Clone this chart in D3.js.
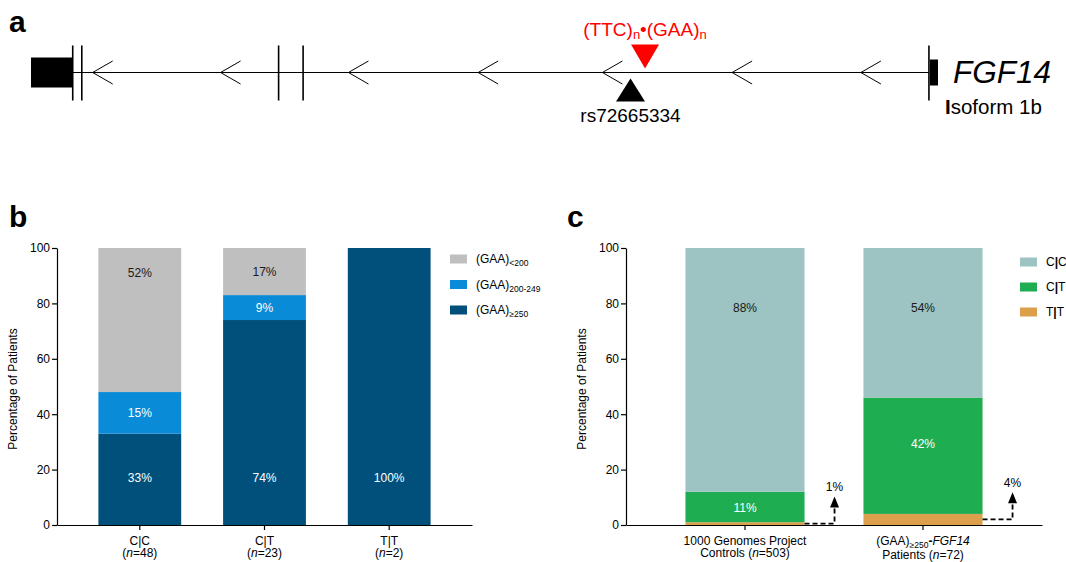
<!DOCTYPE html>
<html>
<head>
<meta charset="utf-8">
<script src="https://cdn.jsdelivr.net/npm/d3@7/dist/d3.min.js"></script>
<style>
  html, body { margin: 0; padding: 0; background: #fff; }
  svg { display: block; font-family: "Liberation Sans", Arial, sans-serif; }
</style>
</head>
<body>
<svg id="chart" width="1066" height="562"></svg>
<script>
// ---------------- DATA ----------------
// Panel a: gene model (positions as % of the drawn gene length)
const bigExon = [0, 4.6];
const smallExon = [99.1, 100];
const exonBars = [4.6, 5.6, 27.3, 30.0, 99.0];
const intron = [4.6, 99.0];
const chevrons = [6.8, 20.9, 35.0, 49.3, 63.0, 77.3, 91.5];
const repeatPos = 67.7;
const snpPos = 66.1;

// Panel b
const genotypesB = ["C|C", "C|T", "T|T"];
const nB = [48, 23, 2];
const gaaGe250 = [33, 74, 100];
const gaa200to249 = [15, 9, 0];
const gaaLt200 = [52, 17, 0];
// label anchors (in % units) for each segment
const lblGe250 = [17, 17, 17];
const lbl200to249 = [40.5, 78.5, null];
const lblLt200 = [91, 91.5, null];

// Panel c
const groupsC = ["controls", "patients"];
const nC = [503, 72];
const genoCC = [88, 54];
const genoCT = [11, 42];
const genoTT = [1, 4];
const lblCC = [78.3, 78.3];
const lblCT = [6.3, 29.5];

const yTicks = [0, 20, 40, 60, 80, 100];

// ---------------- DRAW ----------------
const svg = d3.select("#chart");
const FONT = '"Liberation Sans", Arial, sans-serif';

// Panel letters
[["a", 9, 32], ["b", 9, 227], ["c", 567, 227]].forEach(([t, x, y]) => {
  svg.append("text").attr("x", x).attr("y", y).attr("font-size", 30)
    .attr("font-weight", "bold").attr("fill", "#000").text(t);
});

// ---- Panel a ----
const gx = d3.scaleLinear().domain([0, 100]).range([31, 938]);
const gy = 72.5;
const ga = svg.append("g");
ga.append("line").attr("x1", gx(intron[0])).attr("x2", gx(intron[1]))
  .attr("y1", gy).attr("y2", gy).attr("stroke", "#000").attr("stroke-width", 1.2);
ga.append("rect").attr("x", gx(bigExon[0])).attr("width", gx(bigExon[1]) - gx(bigExon[0]))
  .attr("y", gy - 15).attr("height", 30).attr("fill", "#000");
ga.append("rect").attr("x", gx(smallExon[0])).attr("width", gx(smallExon[1]) - gx(smallExon[0]))
  .attr("y", gy - 13).attr("height", 26).attr("fill", "#000");
ga.selectAll("line.eb").data(exonBars).join("line").attr("class", "eb")
  .attr("x1", d => gx(d)).attr("x2", d => gx(d)).attr("y1", gy - 27).attr("y2", gy + 28)
  .attr("stroke", "#000").attr("stroke-width", 1.6);
ga.selectAll("path.chev").data(chevrons).join("path").attr("class", "chev")
  .attr("d", d => `M${gx(d) + 20},${gy - 11.5}L${gx(d)},${gy}L${gx(d) + 20},${gy + 11.5}`)
  .attr("fill", "none").attr("stroke", "#000").attr("stroke-width", 1);
// repeat (red, pointing down)
const rx = gx(repeatPos);
ga.append("path").attr("d", `M${rx - 14},${gy - 28}L${rx + 14},${gy - 28}L${rx},${gy - 4}Z`).attr("fill", "#ff0000");
const rt = ga.append("text").attr("x", rx).attr("y", 36).attr("text-anchor", "middle")
  .attr("font-size", 19).attr("fill", "#ff0000");
rt.append("tspan").text("(TTC)");
rt.append("tspan").attr("font-size", 13).attr("dy", 3).text("n");
rt.append("tspan").attr("dy", -3).text("•(GAA)");
rt.append("tspan").attr("font-size", 13).attr("dy", 3).text("n");
// SNP (black, pointing up)
const sx = gx(snpPos);
ga.append("path").attr("d", `M${sx - 14.5},${gy + 29}L${sx + 14.5},${gy + 29}L${sx},${gy + 6}Z`).attr("fill", "#000");
ga.append("text").attr("x", sx).attr("y", 122).attr("text-anchor", "middle")
  .attr("font-size", 19).attr("fill", "#000").text("rs72665334");
// gene name
ga.append("text").attr("x", 953).attr("y", 83).attr("font-size", 31.5)
  .attr("font-style", "italic").attr("fill", "#000").text("FGF14");
const iso = ga.append("text").attr("x", 945).attr("y", 114).attr("font-size", 20.5).attr("fill", "#000");
iso.append("tspan").attr("font-weight", "bold").text("I");
iso.append("tspan").text("soform 1b");

// ---- Common y scale ----
const y = d3.scaleLinear().domain([0, 100]).range([525, 248]);

function yAxis(g, x0) {
  const ax = g.append("g").attr("transform", `translate(${x0},0)`)
    .call(d3.axisLeft(y).tickValues(yTicks).tickSize(5).tickPadding(2).tickSizeOuter(0));
  ax.selectAll("text").attr("font-size", 12).attr("font-family", FONT).attr("fill", "#000");
  ax.selectAll("line,path").attr("stroke", "#000").attr("stroke-width", 1.2);
}
function yLabel(g, x) {
  g.append("text").attr("transform", `translate(${x},389) rotate(-90)`)
    .attr("text-anchor", "middle").attr("font-size", 12).attr("fill", "#000")
    .text("Percentage of Patients");
}
function segLabel(g, xc, v, txt, color) {
  g.append("text").attr("x", xc).attr("y", y(v)).attr("dy", "0.36em")
    .attr("text-anchor", "middle").attr("font-size", 12).attr("fill", color).text(txt);
}

// ---- Panel b ----
const gb = svg.append("g");
const xb = d3.scaleBand().domain(genotypesB).range([57, 472]).paddingInner(0.336).paddingOuter(0.332);
const colB = { ge: "#014f7b", mid: "#0a8bd7", lt: "#bfbfbf" };
genotypesB.forEach((gt, i) => {
  const x0 = xb(gt), w = xb.bandwidth();
  const segs = [
    { v0: 0, v1: gaaGe250[i], c: colB.ge, lab: lblGe250[i], tc: "#fff" },
    { v0: gaaGe250[i], v1: gaaGe250[i] + gaa200to249[i], c: colB.mid, lab: lbl200to249[i], tc: "#fff" },
    { v0: gaaGe250[i] + gaa200to249[i], v1: gaaGe250[i] + gaa200to249[i] + gaaLt200[i], c: colB.lt, lab: lblLt200[i], tc: "#1a1a1a" }
  ];
  segs.forEach(s => {
    if (s.v1 - s.v0 <= 0) return;
    gb.append("rect").attr("x", x0).attr("width", w).attr("y", y(s.v1))
      .attr("height", y(s.v0) - y(s.v1)).attr("fill", s.c);
    segLabel(gb, x0 + w / 2, s.lab, (s.v1 - s.v0) + "%", s.tc);
  });
});
yAxis(gb, 57);
yLabel(gb, 17);
const xbAx = gb.append("g").attr("transform", "translate(0,525)")
  .call(d3.axisBottom(xb).tickSize(5).tickSizeOuter(0).tickFormat(""));
xbAx.selectAll("line,path").attr("stroke", "#000").attr("stroke-width", 1.2);
genotypesB.forEach((gt, i) => {
  const xc = xb(gt) + xb.bandwidth() / 2;
  gb.append("text").attr("x", xc).attr("y", 545).attr("text-anchor", "middle")
    .attr("font-size", 12).attr("fill", "#000").text(gt);
  const t = gb.append("text").attr("x", xc).attr("y", 557).attr("text-anchor", "middle")
    .attr("font-size", 12).attr("fill", "#000");
  t.append("tspan").text("(");
  t.append("tspan").attr("font-style", "italic").text("n");
  t.append("tspan").text("=" + nB[i] + ")");
});
// legend b
const legB = [
  { c: colB.lt, sub: "<200" },
  { c: colB.mid, sub: "200-249" },
  { c: colB.ge, sub: "≥250" }
];
legB.forEach((d, i) => {
  const yy = 259 + i * 25.5;
  gb.append("rect").attr("x", 450).attr("y", yy - 4.5).attr("width", 17).attr("height", 9).attr("fill", d.c);
  const t = gb.append("text").attr("x", 476).attr("y", yy + 4).attr("font-size", 12).attr("fill", "#000");
  t.append("tspan").text("(GAA)");
  t.append("tspan").attr("font-size", 8.5).attr("dy", 3).text(d.sub);
});

// ---- Panel c ----
const gc = svg.append("g");
const xc = d3.scaleBand().domain(groupsC).range([626, 1042]).paddingInner(0.331).paddingOuter(0.334);
const colC = { cc: "#9dc3c3", ct: "#1fad52", tt: "#dc9f4c" };
groupsC.forEach((g, i) => {
  const x0 = xc(g), w = xc.bandwidth();
  const segs = [
    { v0: 0, v1: genoTT[i], c: colC.tt, lab: null },
    { v0: genoTT[i], v1: genoTT[i] + genoCT[i], c: colC.ct, lab: lblCT[i], tc: "#fff" },
    { v0: genoTT[i] + genoCT[i], v1: genoTT[i] + genoCT[i] + genoCC[i], c: colC.cc, lab: lblCC[i], tc: "#1a1a1a" }
  ];
  segs.forEach(s => {
    gc.append("rect").attr("x", x0).attr("width", w).attr("y", y(s.v1))
      .attr("height", y(s.v0) - y(s.v1)).attr("fill", s.c);
    if (s.lab != null) segLabel(gc, x0 + w / 2, s.lab, (s.v1 - s.v0) + "%", s.tc);
  });
  // dashed call-out for T|T
  const xs = x0 + w, xe = xs + 30, ys = y(genoTT[i] / 2), tip = y(genoTT[i] / 2 + 9.8);
  gc.append("path").attr("d", `M${xs},${ys}H${xe}V${tip + 10}`)
    .attr("fill", "none").attr("stroke", "#000").attr("stroke-width", 1.8).attr("stroke-dasharray", "5,3");
  gc.append("path").attr("d", `M${xe - 4.5},${tip + 11}L${xe + 4.5},${tip + 11}L${xe},${tip}Z`).attr("fill", "#000");
  gc.append("text").attr("x", xe).attr("y", tip - 5).attr("text-anchor", "middle")
    .attr("font-size", 12).attr("fill", "#000").text(genoTT[i] + "%");
});
yAxis(gc, 626);
yLabel(gc, 586);
const xcAx = gc.append("g").attr("transform", "translate(0,525)")
  .call(d3.axisBottom(xc).tickSize(5).tickSizeOuter(0).tickFormat(""));
xcAx.selectAll("line,path").attr("stroke", "#000").attr("stroke-width", 1.2);
{
  const c0 = xc(groupsC[0]) + xc.bandwidth() / 2;
  gc.append("text").attr("x", c0).attr("y", 545).attr("text-anchor", "middle")
    .attr("font-size", 12).attr("fill", "#000").text("1000 Genomes Project");
  const t2 = gc.append("text").attr("x", c0).attr("y", 557).attr("text-anchor", "middle")
    .attr("font-size", 12).attr("fill", "#000");
  t2.append("tspan").text("Controls (");
  t2.append("tspan").attr("font-style", "italic").text("n");
  t2.append("tspan").text("=" + nC[0] + ")");

  const c1 = xc(groupsC[1]) + xc.bandwidth() / 2;
  const t3 = gc.append("text").attr("x", c1).attr("y", 545).attr("text-anchor", "middle")
    .attr("font-size", 12).attr("fill", "#000");
  t3.append("tspan").text("(GAA)");
  t3.append("tspan").attr("font-size", 8.5).attr("dy", 3).text("≥250");
  t3.append("tspan").attr("dy", -3).attr("font-weight", "bold").text("-");
  t3.append("tspan").attr("font-style", "italic").text("FGF14");
  const t4 = gc.append("text").attr("x", c1).attr("y", 559).attr("text-anchor", "middle")
    .attr("font-size", 12).attr("fill", "#000");
  t4.append("tspan").text("Patients (");
  t4.append("tspan").attr("font-style", "italic").text("n");
  t4.append("tspan").text("=" + nC[1] + ")");
}
// legend c
const legC = [
  { c: colC.cc, a: "C", b: "C" },
  { c: colC.ct, a: "C", b: "T" },
  { c: colC.tt, a: "T", b: "T" }
];
legC.forEach((d, i) => {
  const yy = 262 + i * 25;
  gc.append("rect").attr("x", 1020).attr("y", yy - 4.5).attr("width", 17).attr("height", 9).attr("fill", d.c);
  const t = gc.append("text").attr("x", 1046).attr("y", yy + 4).attr("font-size", 12).attr("fill", "#000");
  t.append("tspan").text(d.a);
  t.append("tspan").attr("font-weight", "bold").text("|");
  t.append("tspan").text(d.b);
});
</script>
</body>
</html>
